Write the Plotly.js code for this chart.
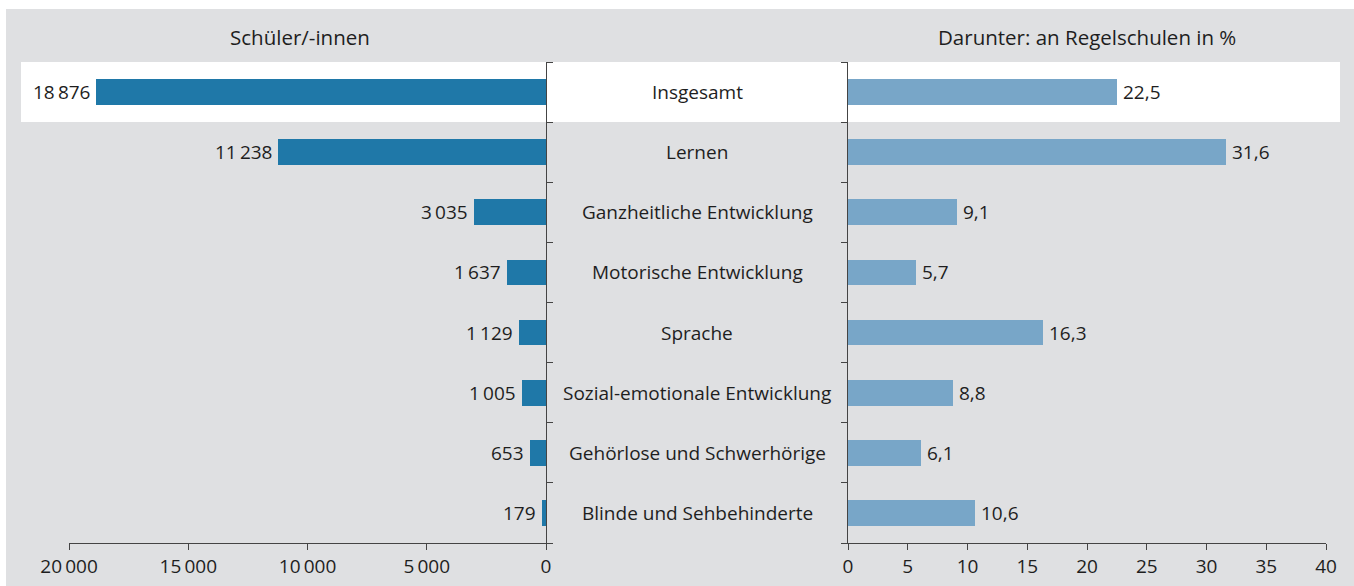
<!DOCTYPE html>
<html>
<head>
<meta charset="utf-8">
<script src="https://cdn.plot.ly/plotly-3.0.1.min.js"></script>
<style>html,body{margin:0;padding:0;background:#fff;}#chart{width:1354px;height:586px;}</style>
</head>
<body>
<div id="chart"></div>
<script>
const categories = ["Insgesamt","Lernen","Ganzheitliche Entwicklung","Motorische Entwicklung","Sprache","Sozial-emotionale Entwicklung","Gehörlose und Schwerhörige","Blinde und Sehbehinderte"];
const pupils = [18876, 11238, 3035, 1637, 1129, 1005, 653, 179];
const pupilLabels = ["18\u2009876","11\u2009238","3\u2009035","1\u2009637","1\u2009129","1\u2009005","653","179"];
const regularPct = [22.5, 31.6, 9.1, 5.7, 16.3, 8.8, 6.1, 10.6];
const regularLabels = ["22,5","31,6","9,1","5,7","16,3","8,8","6,1","10,6"];
const leftTickVals = [0, 5000, 10000, 15000, 20000];
const leftTickText = ["0","5\u2009000","10\u2009000","15\u2009000","20\u2009000"];
const rightTickVals = [0,5,10,15,20,25,30,35,40];
const rightTickText = ["0","5","10","15","20","25","30","35","40"];
const leftTitle = "Schüler/-innen";
const rightTitle = "Darunter: an Regelschulen in %";

const W = 1354, H = 586;
const FONT = "Open Sans, sans-serif";
const TXT = "#1e1e1e";
const AX = "#444";
const pos = categories.map((c,i)=>i);
const boundaries = [];
for (let i=0;i<=categories.length;i++) boundaries.push(i-0.5);

const yTop = 62, yBot = 543;
const yDom = [1 - yBot/H, 1 - yTop/H];

const traces = [
  {type:'bar', orientation:'h', x:pupils, y:pos, xaxis:'x', yaxis:'y',
   marker:{color:'#1f78a8'}, width:0.43, hoverinfo:'x'},
  {type:'bar', orientation:'h', x:regularPct, y:pos, xaxis:'x2', yaxis:'y2',
   marker:{color:'#78a6c8'}, width:0.43, hoverinfo:'x'}
];

const annotations = [];
categories.forEach((c,i)=>{
  annotations.push({xref:'paper', yref:'y', x:697/W, y:i, text:c, showarrow:false,
    xanchor:'center', yanchor:'middle', font:{family:FONT,size:19,color:TXT}});
  annotations.push({xref:'x', yref:'y', x:pupils[i], y:i, text:pupilLabels[i], showarrow:false,
    xanchor:'right', yanchor:'middle', xshift:-4, font:{family:FONT,size:19,color:TXT}});
  annotations.push({xref:'x2', yref:'y2', x:regularPct[i], y:i, text:regularLabels[i], showarrow:false,
    xanchor:'left', yanchor:'middle', xshift:4, font:{family:FONT,size:19,color:TXT}});
});
annotations.push({xref:'paper', yref:'paper', x:300/W, y:1-37/H, text:leftTitle, showarrow:false,
  xanchor:'center', yanchor:'middle', font:{family:FONT,size:20.5,color:TXT}});
annotations.push({xref:'paper', yref:'paper', x:1087/W, y:1-37/H, text:rightTitle, showarrow:false,
  xanchor:'center', yanchor:'middle', font:{family:FONT,size:20.5,color:TXT}});

const shapes = [
  {type:'rect', xref:'paper', yref:'paper', x0:6/W, x1:1, y0:0, y1:1-9/H,
   fillcolor:'#dfe0e2', line:{width:0}, layer:'below'},
  {type:'rect', xref:'paper', yref:'paper', x0:21/W, x1:1340/W, y0:1-122/H, y1:1-62/H,
   fillcolor:'#ffffff', line:{width:0}, layer:'below'}
];

const xCommon = {showgrid:false, zeroline:false, showline:true, linecolor:AX, linewidth:1,
  ticks:'outside', ticklen:6, tickcolor:AX, tickwidth:1, tickmode:'array',
  tickfont:{family:FONT,size:19,color:TXT}, fixedrange:true};
const yCommon = {showgrid:false, zeroline:false, showline:true, linecolor:AX, linewidth:1,
  ticks:'outside', ticklen:6, tickcolor:AX, tickwidth:1, tickmode:'array', tickvals:boundaries,
  showticklabels:false, range:[categories.length-0.5, -0.5], domain:yDom, fixedrange:true};

const layout = {
  width:W, height:H, margin:{l:0,r:0,t:0,b:0},
  paper_bgcolor:'#ffffff', plot_bgcolor:'rgba(0,0,0,0)',
  showlegend:false, bargap:0,
  xaxis: Object.assign({}, xCommon, {domain:[69/W, 546/W], range:[20000,0],
    tickvals:leftTickVals, ticktext:leftTickText, anchor:'y'}),
  yaxis: Object.assign({}, yCommon, {anchor:'x', side:'right'}),
  xaxis2: Object.assign({}, xCommon, {domain:[848/W, 1326/W], range:[0,40],
    tickvals:rightTickVals, ticktext:rightTickText, anchor:'y2'}),
  yaxis2: Object.assign({}, yCommon, {anchor:'x2', side:'left'}),
  shapes:shapes, annotations:annotations
};

Plotly.newPlot('chart', traces, layout, {displayModeBar:false, staticPlot:true});
</script>
</body>
</html>
